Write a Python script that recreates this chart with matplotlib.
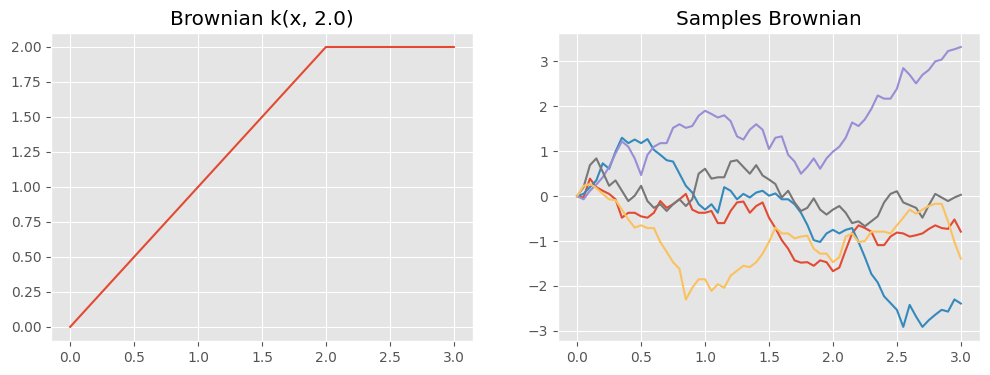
import numpy as np
import matplotlib
matplotlib.use("Agg")
import matplotlib.pyplot as plt

# kernel k(x, 2.0)
k_x = [0.0, 2.0, 3.0]
k_y = [0.0, 2.0, 2.0]

# sample paths, every 0.05 on x
t = np.round(np.arange(0, 61) * 0.05, 2)

red = [0, -0.03, 0.39, 0.2, 0.12, 0.05, -0.07, -0.48, -0.37, -0.37, -0.45,
       -0.48, -0.37, -0.11, -0.26, -0.18, -0.07, 0.05, -0.3, -0.37, -0.37,
       -0.33, -0.6, -0.6, -0.33, -0.14, -0.12, -0.37, -0.22, -0.14, -0.48,
       -0.71, -0.98, -1.17, -1.43, -1.48, -1.47, -1.55, -1.43, -1.47, -1.67,
       -1.59, -1.2, -0.83, -0.65, -0.71, -0.79, -1.09, -1.09, -0.9, -0.81,
       -0.83, -0.9, -0.87, -0.83, -0.73, -0.65, -0.71, -0.73, -0.52, -0.79]

blue = [0, 0.05, 0.2, 0.35, 0.73, 0.61, 0.99, 1.3, 1.18, 1.26, 1.18,
        1.27, 1.03, 0.92, 0.8, 0.77, 0.5, 0.23, 0.08, -0.18, -0.3,
        -0.18, -0.37, 0.2, 0.12, -0.07, 0.05, -0.03, 0.08, 0.12, 0.01,
        0.06, -0.07, -0.07, -0.18, -0.37, -0.64, -0.98, -1.02, -0.83, -0.75,
        -0.83, -0.75, -0.71, -1.02, -1.36, -1.73, -1.92, -2.23, -2.38, -2.53,
        -2.91, -2.42, -2.68, -2.91, -2.76, -2.64, -2.53, -2.57, -2.3, -2.39]

purple = [0, -0.07, 0.12, 0.26, 0.42, 0.65, 0.95, 1.22, 1.1, 0.84, 0.47,
          0.92, 1.1, 1.18, 1.18, 1.52, 1.6, 1.52, 1.56, 1.79, 1.9,
          1.83, 1.75, 1.8, 1.67, 1.33, 1.26, 1.48, 1.6, 1.48, 1.05,
          1.3, 1.33, 0.92, 0.77, 0.5, 0.65, 0.84, 0.61, 0.84, 0.99,
          1.1, 1.3, 1.64, 1.56, 1.71, 1.94, 2.24, 2.17, 2.17, 2.39,
          2.85, 2.7, 2.51, 2.7, 2.81, 3.0, 3.04, 3.23, 3.27, 3.32]

gray = [0, 0.2, 0.69, 0.84, 0.54, 0.23, 0.35, 0.12, -0.11, 0.01, 0.23,
        -0.11, -0.26, -0.18, -0.33, -0.18, -0.07, -0.22, -0.07, 0.5, 0.61,
        0.39, 0.42, 0.42, 0.77, 0.8, 0.65, 0.5, 0.69, 0.46, 0.37,
        0.27, -0.03, 0.12, -0.14, -0.33, -0.26, -0.05, -0.3, -0.41, -0.3,
        -0.22, -0.37, -0.6, -0.56, -0.67, -0.56, -0.45, -0.14, 0.05, 0.11,
        -0.14, -0.2, -0.26, -0.48, -0.2, 0.05, -0.03, -0.11, -0.03, 0.03]

yellow = [0, 0.23, 0.27, 0.18, 0.05, -0.07, -0.09, -0.3, -0.52, -0.7, -0.65,
          -0.71, -0.71, -1.02, -1.24, -1.47, -1.62, -2.3, -2.04, -1.85, -1.85,
          -2.11, -1.96, -2.04, -1.77, -1.66, -1.55, -1.58, -1.47, -1.28, -1.02,
          -0.7, -0.83, -0.83, -0.94, -0.9, -0.88, -1.17, -1.28, -1.28, -1.47,
          -1.36, -0.9, -0.83, -1.02, -1.0, -0.79, -0.79, -0.79, -0.83, -0.65,
          -0.48, -0.3, -0.39, -0.3, -0.22, -0.17, -0.17, -0.56, -1.02, -1.39]

plt.style.use('ggplot')
fig = plt.figure(figsize=(9.9, 3.75), dpi=100)
ax1 = fig.add_axes([0.0515, 0.091, 0.4263, 0.821])
ax2 = fig.add_axes([0.5636, 0.091, 0.4263, 0.821])

ax1.plot(k_x, k_y)
ax1.set_title('Brownian k(x, 2.0)')

for path in [red, blue, purple, gray, yellow]:
    ax2.plot(t, path)
ax2.set_title('Samples Brownian')

fig.savefig('out.png', dpi=100)
